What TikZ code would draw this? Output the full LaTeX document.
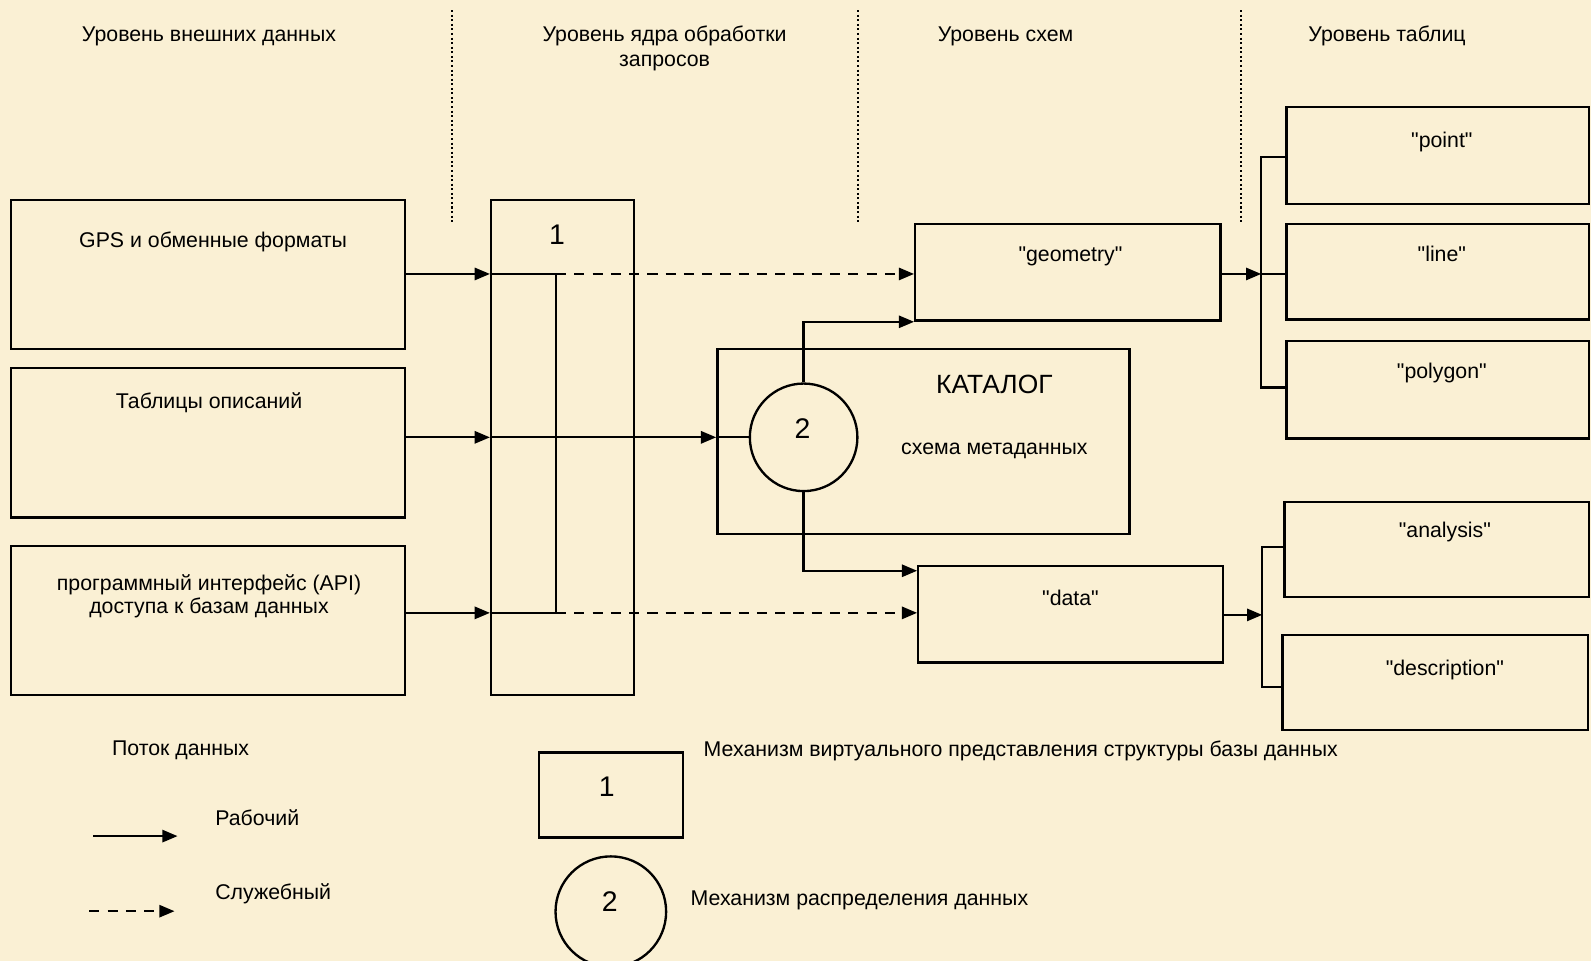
\documentclass[tikz,border=0pt]{standalone}
\usepackage{fontspec}
\setmainfont{Liberation Sans}[Ligatures=TeXOff]
\usetikzlibrary{arrows.meta}
\definecolor{bg}{RGB}{250,240,212}
\newcommand{\dq}{"}
\begin{document}
\begin{tikzpicture}[x=1pt,y=-1pt,
  ln/.style={line width=2.3pt, line cap=butt},
  boxx/.style={draw, line width=2.3pt, rectangle, inner sep=0pt},
  circ/.style={draw, line width=2.3pt, circle, inner sep=0pt},
  arr/.style={ln, -{Triangle[length=15pt,width=12pt]}},
  darr/.style={arr, dash pattern=on 10pt off 8pt},
  sepline/.style={line width=2pt, dash pattern=on 2pt off 2.5pt},
  t/.style={font=\fontsize{21}{23}\selectfont, inner sep=0pt, text height=15pt, text depth=0pt},
  tm/.style={font=\fontsize{21}{23}\selectfont, inner sep=0pt, align=center},
  th/.style={font=\fontsize{21}{25}\selectfont, inner sep=0pt, align=center},
  big/.style={font=\fontsize{26}{30}\selectfont, inner sep=0pt, text height=19pt, text depth=0pt},
  num/.style={font=\fontsize{28}{30}\selectfont, inner sep=0pt, text height=20pt, text depth=0pt},
]
\fill[bg] (0,0) rectangle (1568,947);
\useasboundingbox (0,0) rectangle (1568,947);

% separators
\draw[sepline] (445,10) -- (445,220);
\draw[sepline] (846,10) -- (846,220);
\draw[sepline] (1223,10) -- (1223,220);

% headers
\node[t] (h1) at (206,33) {Уровень внешних данных};
\node[th] (h2) at (655,48) {Уровень ядра обработки\\запросов};
\node[t] (h3) at (991,33) {Уровень схем};
\node[t] (h4) at (1367,33) {Уровень таблиц};

% left boxes
\node[boxx, minimum width=388pt, minimum height=147pt] (gps) at (205,270.5) {};
\node[t] (gpsT) at (210,236) {GPS и обменные форматы};
\node[boxx, minimum width=388pt, minimum height=147pt] (tbl) at (205,436.5) {};
\node[t] (tblT) at (206,395) {Таблицы описаний};
\node[boxx, minimum width=388pt, minimum height=147pt] (api) at (205,611.5) {};
\node[tm] (apiT) at (206,587.5) {программный интерфейс (API)\\доступа к базам данных};

% core
\node[boxx, minimum width=141pt, minimum height=488pt] (core) at (554.5,441) {};
\node[num] (coreT) at (549,231) {1};

% schema level
\node[boxx, minimum width=301pt, minimum height=95pt] (geom) at (1052.5,268.5) {};
\node[t] (geomT) at (1055,250) {\dq geometry\dq};
\node[boxx, minimum width=406pt, minimum height=182.6pt] (cat) at (910,435.3) {};
\node[big] (catT) at (980,378) {КАТАЛОГ};
\node[t] (catS) at (980,440) {схема метаданных};
\node[circ, fill=bg, minimum size=106pt] (mix) at (792,431) {};
\node[num] (mixT) at (791,422) {2};
\node[boxx, minimum width=300pt, minimum height=95pt] (data) at (1055,605.5) {};
\node[t] (dataT) at (1055,589) {\dq data\dq};

% table level
\node[boxx, minimum width=298pt, minimum height=95.5pt] (point) at (1417,153.25) {};
\node[t] (pointT) at (1421,138) {\dq point\dq};
\node[boxx, minimum width=298pt, minimum height=94pt] (linebox) at (1417,268) {};
\node[t] (lineT) at (1421,250) {\dq line\dq};
\node[boxx, minimum width=298pt, minimum height=96pt] (poly) at (1417,384) {};
\node[t] (polyT) at (1421,366) {\dq polygon\dq};
\node[boxx, minimum width=300pt, minimum height=94pt] (anal) at (1416,541.5) {};
\node[t] (analT) at (1424,522) {\dq analysis\dq};
\node[boxx, minimum width=301pt, minimum height=93.5pt] (desc) at (1414.5,672.75) {};
\node[t] (descT) at (1424,658) {\dq description\dq};

% junctions
\coordinate (j1) at (548,270);
\coordinate (j3) at (548,604);
\coordinate (dn) at (792,562.5);
\coordinate (b1) at (1243,270);
\coordinate (b1t) at (1243,155);
\coordinate (b1b) at (1243,382);
\coordinate (b2) at (1244,606);
\coordinate (b2t) at (1244,539);
\coordinate (b2b) at (1244,677);

% flows
\draw[arr] (gps.east |- j1) -- (core.west |- j1);
\draw[ln] (core.west |- j1) -- (j1);
\draw[darr] (j1) -- (geom.west |- j1);
\draw[ln] (j1) -- (j3);
\draw[arr] (api.east |- j3) -- (core.west |- j3);
\draw[ln] (core.west |- j3) -- (j3);
\draw[darr] (j3) -- (data.west |- j3);

\draw[arr] (tbl.east |- mix.west) -- (core.west |- mix.west);
\draw[arr] (core.west |- mix.west) -- (cat.west |- mix.west);
\draw[ln] (cat.west |- mix.west) -- (mix.west);

\draw[arr] (mix.north) -- (mix.north |- geom.south) -- (geom.south west);
\draw[arr] (mix.south) -- (dn) -- (data.west |- dn);

\draw[arr] (geom.east |- b1) -- (b1);
\draw[ln] (point.west |- b1t) -- (b1t) -- (b1b) -- (poly.west |- b1b);
\draw[ln] (b1) -- (linebox.west |- b1);

\draw[arr] (data.east |- b2) -- (b2);
\draw[ln] (anal.west |- b2t) -- (b2t) -- (b2b) -- (desc.west |- b2b);

% legend
\node[t] (legT) at (178,737) {Поток данных};
\node[t, anchor=west] (legW) at (212,806) {Рабочий};
\node[t, anchor=west] (legS) at (212,879) {Служебный};
\coordinate (la1) at (92,824);
\coordinate (la2) at (175,824);
\draw[arr] (la1) -- (la2);
\coordinate (ld1) at (88,898);
\coordinate (ld2) at (172,898);
\draw[darr] (ld1) -- (ld2);

\node[boxx, minimum width=142pt, minimum height=84pt] (leg1) at (602,783.5) {};
\node[num] (leg1T) at (598,775) {1};
\node[circ, minimum size=109pt] (leg2) at (602,898.5) {};
\node[num] (leg2T) at (601,888) {2};
\node[t] (m1) at (1006,738) {Механизм виртуального представления структуры базы данных};
\node[t] (m2) at (847,885) {Механизм распределения данных};
\end{tikzpicture}
\end{document}
